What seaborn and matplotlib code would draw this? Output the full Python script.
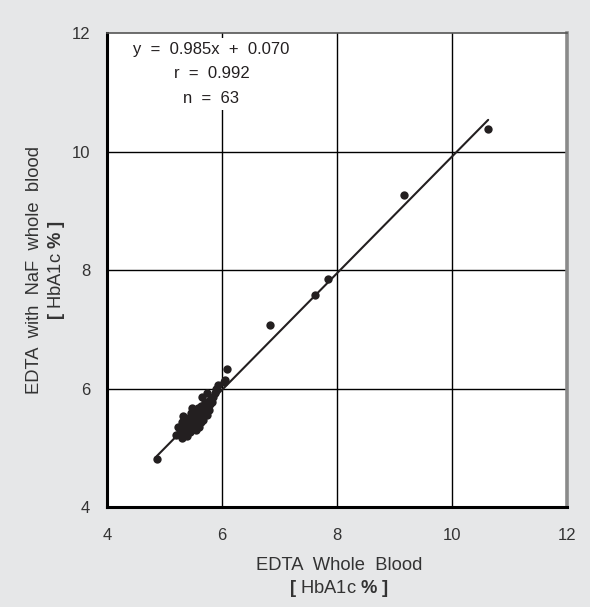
import numpy as np
import pandas as pd
import matplotlib.pyplot as plt
import seaborn as sns

# EDTA whole blood (x) vs EDTA with NaF (y), HbA1c %
edta = [4.87, 10.62, 9.17, 7.85, 7.62, 6.83, 6.09, 6.03, 6.05,
        5.20, 5.24, 5.27, 5.30, 5.31, 5.33, 5.35, 5.37, 5.38, 5.40,
        5.41, 5.42, 5.44, 5.45, 5.46, 5.47, 5.48, 5.49, 5.50, 5.51,
        5.52, 5.53, 5.54, 5.55, 5.56, 5.57, 5.58, 5.58, 5.60, 5.61,
        5.62, 5.63, 5.64, 5.65, 5.66, 5.67, 5.68, 5.69, 5.70, 5.71,
        5.72, 5.74, 5.75, 5.76, 5.77, 5.79, 5.80, 5.83, 5.85, 5.88,
        5.90, 5.93, 5.52, 5.45]
naf = [4.82, 10.39, 9.27, 7.86, 7.59, 7.08, 6.34, 6.12, 6.15,
       5.22, 5.36, 5.28, 5.18, 5.45, 5.55, 5.32, 5.25, 5.40, 5.20,
       5.48, 5.35, 5.28, 5.52, 5.42, 5.60, 5.68, 5.33, 5.45, 5.55,
       5.38, 5.62, 5.50, 5.30, 5.42, 5.58, 5.68, 5.47, 5.36, 5.55,
       5.62, 5.44, 5.72, 5.86, 5.52, 5.60, 5.48, 5.68, 5.78, 5.58,
       5.65, 5.93, 5.56, 5.72, 5.65, 5.82, 5.74, 5.78, 5.86, 5.93,
       6.00, 6.07, 5.48, 5.38]

slope = 0.985
intercept = 0.070
fit_x = [4.87, 10.63]

ticks = [4, 6, 8, 10, 12]

stats_text = 'y  =  0.985x  +  0.070\nr  =  0.992\nn  =  63'

df = pd.DataFrame({'edta': edta, 'naf': naf})

sns.set_style('white')
plt.rcParams['font.family'] = ['Liberation Sans', 'DejaVu Sans']
plt.rcParams['mathtext.fontset'] = 'custom'
plt.rcParams['mathtext.rm'] = 'Liberation Sans'
plt.rcParams['mathtext.bf'] = 'Liberation Sans:bold'

dark = '#231f20'
grey_txt = '#333333'
bg = '#e6e7e8'

fig = plt.figure(figsize=(5.9, 6.07), dpi=100, facecolor=bg)
ax = fig.add_axes([0.181, 0.164, 0.78, 0.781])
ax.set_facecolor('white')

for t in ticks[1:-1]:
    ax.axvline(t, color='black', lw=1.0, zorder=1)
    ax.axhline(t, color='black', lw=1.0, zorder=1)

fy = [slope * v + intercept for v in fit_x]
ax.plot(fit_x, fy, color=dark, lw=1.5, zorder=2)

sns.scatterplot(data=df, x='edta', y='naf', ax=ax, s=36, color=dark,
                linewidth=0, zorder=3)

ax.set_xlim(4, 12)
ax.set_ylim(4, 12)
ax.set_xticks(ticks)
ax.set_yticks(ticks)
ax.tick_params(direction='in', length=4, width=1.2, colors=dark,
               labelsize=12, labelcolor=grey_txt)
ax.tick_params(axis='x', pad=15)
ax.tick_params(axis='y', pad=12)
ax.set_xlabel('')
ax.set_ylabel('')

ax.spines['left'].set_color('black')
ax.spines['left'].set_linewidth(2.2)
ax.spines['bottom'].set_color('black')
ax.spines['bottom'].set_linewidth(2.2)
ax.spines['top'].set_color('#555555')
ax.spines['top'].set_linewidth(1.2)
ax.spines['right'].set_color('#8a8a8a')
ax.spines['right'].set_linewidth(2.6)

ax.text(5.82, 11.86, stats_text, ha='center', va='top', multialignment='center',
        fontsize=12, color=dark, linespacing=1.8, zorder=4,
        bbox=dict(facecolor='white', edgecolor='none', pad=3))

fig.text(0.575, 0.069, 'EDTA  Whole  Blood', ha='center', va='center',
         fontsize=13.2, color=grey_txt)
fig.text(0.575, 0.031, r'$\mathbf{[}$ HbA1c $\mathbf{\%}$ $\mathbf{]}$',
         ha='center', va='center', fontsize=13.2, color=grey_txt)
fig.text(0.058, 0.555, 'EDTA  with  NaF  whole  blood', ha='center',
         va='center', rotation=90, fontsize=13.2, color=grey_txt)
fig.text(0.095, 0.555, r'$\mathbf{[}$ HbA1c $\mathbf{\%}$ $\mathbf{]}$',
         ha='center', va='center', rotation=90, fontsize=13.2,
         color=grey_txt)

fig.savefig('out.png', dpi=100, facecolor=bg)
